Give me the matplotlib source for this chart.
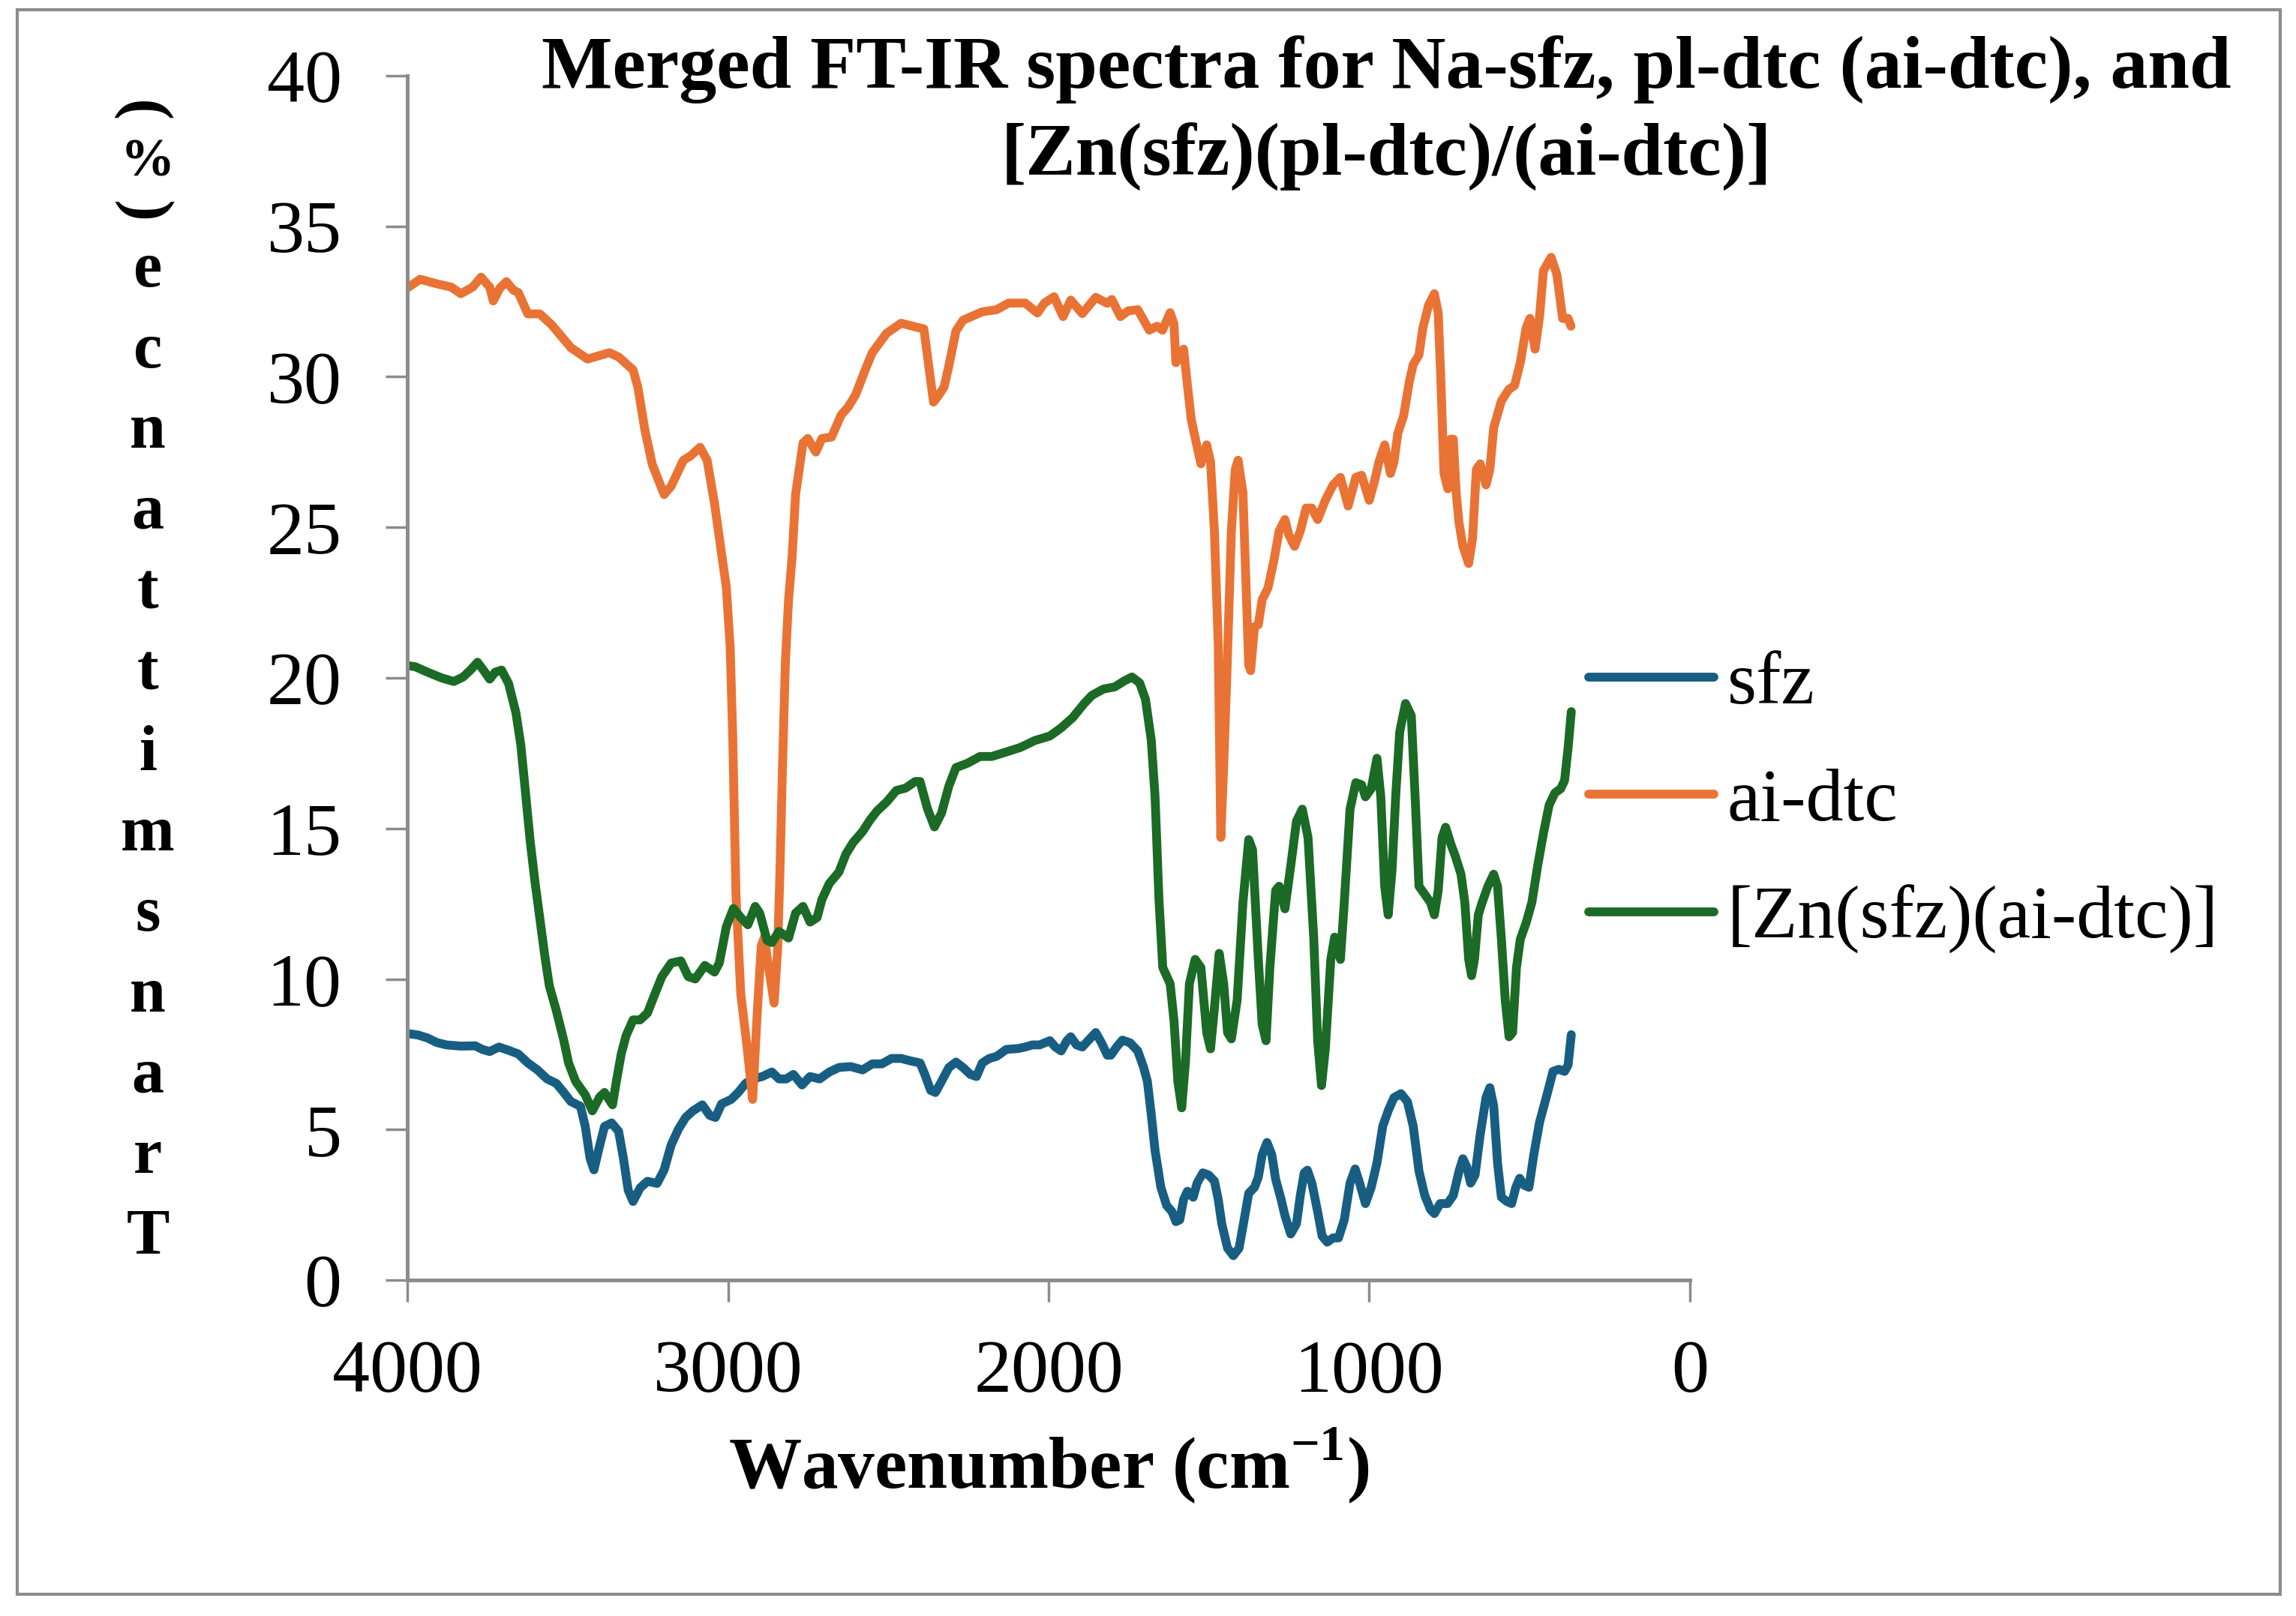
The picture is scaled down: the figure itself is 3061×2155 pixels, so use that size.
"""Merged FT-IR spectra: sfz, ai-dtc and the Zn complex."""

import matplotlib
matplotlib.use("Agg")
import matplotlib.pyplot as plt
from matplotlib.patches import Rectangle

# --- data (wavenumber in cm-1, transmittance in %) ---
sfz_wn = [4000, 3967, 3937, 3908, 3878, 3833, 3788, 3766, 3743, 3714, 3684, 3654,
          3624, 3594, 3564, 3535, 3512, 3490, 3460, 3445, 3430, 3418, 3403, 3385,
          3363, 3341, 3326, 3311, 3296, 3274, 3251, 3221, 3199, 3177, 3154, 3132,
          3109, 3080, 3057, 3039, 3020, 2990, 2968, 2945, 2923, 2893, 2863, 2841,
          2818, 2796, 2769, 2744, 2714, 2684, 2654, 2617, 2580, 2550, 2520, 2490,
          2460, 2431, 2401, 2386, 2368, 2353, 2334, 2311, 2289, 2267, 2244, 2225,
          2207, 2185, 2162, 2132, 2095, 2073, 2050, 2028, 1996, 1979, 1961, 1943,
          1931, 1913, 1895, 1877, 1853, 1835, 1817, 1806, 1788, 1770, 1746, 1722,
          1704, 1692, 1680, 1668, 1650, 1632, 1615, 1603, 1591, 1579, 1567, 1549,
          1537, 1519, 1501, 1483, 1471, 1460, 1442, 1424, 1406, 1388, 1376, 1358,
          1346, 1334, 1319, 1304, 1292, 1275, 1263, 1245, 1227, 1215, 1203, 1193,
          1179, 1161, 1147, 1131, 1113, 1096, 1078, 1060, 1044, 1030, 1012, 994,
          976, 958, 940, 923, 901, 881, 863, 845, 827, 809, 797, 779, 756, 738,
          720, 708, 696, 684, 670, 654, 636, 624, 612, 600, 588, 571, 556, 543,
          531, 517, 502, 487, 469, 445, 427, 409, 391, 380, 370]
sfz_t = [8.19, 8.14, 8.04, 7.89, 7.81, 7.77, 7.78, 7.66, 7.59, 7.74, 7.63, 7.51,
         7.21, 6.98, 6.68, 6.53, 6.23, 5.93, 5.77, 5.10, 4.04, 3.66, 4.34, 5.10,
         5.22, 4.94, 4.04, 2.98, 2.61, 3.06, 3.28, 3.21, 3.66, 4.49, 5.02, 5.40,
         5.62, 5.82, 5.47, 5.40, 5.85, 6.00, 6.23, 6.53, 6.68, 6.76, 6.91, 6.68,
         6.68, 6.83, 6.48, 6.76, 6.68, 6.91, 7.06, 7.09, 6.98, 7.18, 7.18, 7.36,
         7.36, 7.28, 7.21, 6.83, 6.30, 6.23, 6.60, 7.06, 7.24, 7.06, 6.83, 6.76,
         7.21, 7.36, 7.43, 7.66, 7.69, 7.74, 7.81, 7.81, 7.95, 7.74, 7.61, 7.95,
         8.08, 7.81, 7.74, 7.95, 8.22, 7.88, 7.47, 7.47, 7.74, 7.97, 7.88, 7.61,
         7.07, 6.60, 5.51, 4.30, 3.08, 2.48, 2.27, 1.94, 2.00, 2.68, 2.95, 2.75,
         3.22, 3.56, 3.49, 3.29, 2.68, 1.87, 1.06, 0.81, 1.06, 2.14, 2.88, 3.08,
         3.42, 4.16, 4.57, 4.16, 3.35, 2.68, 2.14, 1.53, 1.87, 2.81, 3.56, 3.65,
         3.22, 2.27, 1.46, 1.26, 1.40, 1.40, 2.00, 3.22, 3.69, 3.22, 2.54, 3.08,
         3.89, 5.11, 5.65, 6.06, 6.19, 5.92, 5.11, 3.62, 2.81, 2.34, 2.21, 2.54, 2.54, 2.81,
         3.62, 4.03, 3.76, 3.22, 3.49, 4.84, 6.06, 6.39, 5.78, 3.89, 2.75, 2.61, 2.54, 3.08,
         3.38, 3.15, 3.08, 4.16, 5.24, 6.19, 6.93, 7.00, 6.93, 7.14, 8.15]

aidtc_wn = [4000, 3960, 3908, 3863, 3833, 3796, 3770, 3743, 3732, 3711, 3691, 3669,
            3654, 3624, 3587, 3550, 3490, 3438, 3370, 3341, 3296, 3281, 3259, 3236,
            3199, 3177, 3139, 3117, 3087, 3065, 3042, 3027, 3005, 2993, 2985, 2975,
            2960, 2941, 2923, 2908, 2896, 2886, 2875, 2856, 2845, 2838, 2830, 2821,
            2811, 2800, 2789, 2766, 2751, 2726, 2707, 2677, 2647, 2625, 2602, 2572,
            2550, 2505, 2460, 2416, 2389, 2374, 2359, 2344, 2326, 2311, 2289, 2267,
            2237, 2207, 2162, 2125, 2073, 2035, 2013, 1983, 1955, 1931, 1895, 1853,
            1817, 1803, 1776, 1752, 1722, 1686, 1662, 1645, 1621, 1609, 1603, 1579,
            1567, 1555, 1537, 1525, 1507, 1495, 1483, 1471, 1463, 1455, 1445, 1430,
            1418, 1409, 1394, 1386, 1376, 1370, 1358, 1346, 1334, 1316, 1298, 1281,
            1263, 1251, 1233, 1215, 1197, 1179, 1161, 1137, 1113, 1090, 1066, 1042,
            1024, 1000, 982, 970, 952, 934, 923, 911, 893, 875, 863, 845, 833, 815,
            797, 785, 777, 767, 755, 746, 738, 729, 720, 708, 690, 678, 666, 654,
            636, 624, 612, 588, 565, 547, 529, 511, 499, 483, 469, 457, 433, 415,
            397, 380, 371]
aidtc_t = [32.95, 33.24, 33.09, 32.98, 32.76, 32.98, 33.31, 32.98, 32.52, 32.95, 33.16, 32.88,
           32.80, 32.09, 32.09, 31.73, 30.97, 30.59, 30.80, 30.66, 30.23, 29.66, 28.23, 27.09,
           26.09, 26.37, 27.23, 27.37, 27.66, 27.23, 25.80, 24.66, 23.00, 21.00, 18.00, 12.80,
           9.50, 7.80, 6.00, 9.00, 11.10, 11.40, 10.50, 9.20, 11.00, 13.50, 17.00, 20.50,
           22.60, 24.00, 26.10, 27.80, 27.95, 27.50, 27.95, 28.00, 28.73, 29.00, 29.40, 30.23,
           30.80, 31.45, 31.78, 31.66, 31.59, 30.37, 29.16, 29.37, 29.66, 30.37, 31.52, 31.88,
           32.02, 32.16, 32.23, 32.45, 32.45, 32.12, 32.45, 32.66, 32.00, 32.55, 32.10, 32.64,
           32.44, 32.57, 32.00, 32.19, 32.23, 31.55, 31.68, 31.55, 32.13, 31.75, 30.47, 30.92,
           29.71, 28.57, 27.68, 27.11, 27.74, 27.17, 24.88, 21.10, 14.70, 16.80, 19.80, 24.90,
           26.92, 27.23, 26.15, 23.60, 20.43, 20.24, 21.70, 21.77, 22.60, 22.98, 23.87, 24.88,
           25.26, 24.75, 24.37, 24.88, 25.64, 25.64, 25.26, 25.90, 26.41, 26.66, 25.71, 26.66,
           26.73, 25.90, 26.60, 27.17, 27.74, 26.79, 27.17, 28.12, 28.70, 29.84, 30.41, 30.73, 31.62, 32.38,
           32.76, 32.13, 29.97, 26.79, 26.28, 27.93, 27.93, 26.15, 25.14, 24.37, 23.80, 24.63, 26.92, 27.11,
           26.41, 26.92, 28.31, 29.20, 29.58, 29.71, 30.47, 31.62, 31.94, 30.92, 32.00, 33.52, 33.97, 33.40,
           31.94, 31.94, 31.68]

zn_wn = [4000, 3975, 3937, 3893, 3855, 3826, 3803, 3781, 3758, 3743, 3726, 3706,
         3684, 3661, 3646, 3632, 3617, 3602, 3587, 3572, 3557, 3535, 3512, 3497,
         3475, 3445, 3423, 3400, 3385, 3360, 3348, 3333, 3318, 3296, 3274, 3251,
         3229, 3206, 3177, 3147, 3124, 3102, 3072, 3042, 3027, 3005, 2983, 2960,
         2938, 2915, 2901, 2878, 2863, 2841, 2811, 2789, 2766, 2744, 2722, 2707,
         2684, 2654, 2632, 2610, 2580, 2557, 2535, 2505, 2475, 2446, 2416, 2401,
         2378, 2356, 2334, 2311, 2289, 2252, 2214, 2177, 2132, 2088, 2043, 1996,
         1961, 1925, 1889, 1865, 1829, 1794, 1764, 1740, 1716, 1698, 1680, 1668,
         1656, 1644, 1621, 1609, 1597, 1585, 1573, 1561, 1543, 1525, 1507, 1495,
         1483, 1468, 1454, 1442, 1430, 1412, 1394, 1376, 1364, 1346, 1334, 1322,
         1310, 1292, 1281, 1263, 1245, 1227, 1209, 1191, 1173, 1161, 1149, 1137,
         1120, 1108, 1090, 1078, 1060, 1042, 1024, 1012, 994, 976, 964, 952,
         941, 929, 917, 905, 887, 869, 857, 845, 827, 809, 797, 785, 773, 762,
         744, 732, 714, 702, 690, 681, 672, 660, 648, 630, 612, 600, 588, 576,
         564, 553, 541, 529, 511, 493, 475, 457, 439, 421, 403, 391, 380, 370]
zn_t = [20.41, 20.37, 20.19, 20.00, 19.88, 20.03, 20.26, 20.52, 20.19, 19.96, 20.19, 20.26,
        19.81, 18.83, 17.77, 16.26, 14.60, 13.24, 12.04, 10.83, 9.77, 8.94, 7.96, 7.21,
        6.60, 6.15, 5.62, 6.08, 6.23, 5.82, 6.60, 7.50, 8.11, 8.64, 8.64, 8.87,
        9.47, 10.08, 10.53, 10.60, 10.08, 10.00, 10.45, 10.23, 10.53, 11.74, 12.34, 12.04,
        11.80, 12.41, 12.19, 11.28, 11.21, 11.58, 11.36, 12.19, 12.41, 11.89, 12.04, 12.64,
        13.17, 13.55, 14.15, 14.53, 14.90, 15.28, 15.58, 15.88, 16.26, 16.34, 16.56, 16.56,
        15.66, 15.05, 15.51, 16.41, 17.02, 17.17, 17.39, 17.39, 17.54, 17.69, 17.92, 18.07,
        18.34, 18.68, 19.15, 19.42, 19.63, 19.70, 19.90, 20.03, 19.83, 19.29, 17.94, 16.05,
        12.67, 10.38, 9.84, 8.62, 6.60, 5.72, 7.27, 9.84, 10.65, 10.38, 8.22, 7.68,
        9.03, 10.85, 9.84, 8.22, 8.01, 9.30, 12.54, 14.63, 14.29, 10.65, 8.49, 7.95,
        10.38, 12.94, 13.08, 12.33, 13.75, 15.24, 15.64, 14.70, 11.32, 7.95, 6.46, 7.68,
        10.65, 11.39, 10.65, 12.54, 15.64, 16.52, 16.45, 16.05, 16.32, 17.33, 16.05, 13.08,
        12.13, 13.62, 16.18, 18.21, 19.15, 18.75, 16.05, 13.08, 12.81, 12.54, 12.13, 12.94, 14.70, 15.04,
        14.43, 14.09, 13.48, 12.54, 10.65, 10.11, 10.65, 12.13, 12.54, 13.08, 13.48, 13.08, 11.32, 9.30,
        8.08, 8.22, 10.38, 11.32, 11.86, 12.54, 13.75, 14.83, 15.78, 16.18, 16.32, 16.59, 17.67, 18.88]

series = [("sfz", sfz_wn, sfz_t, "#175E82"),
          ("ai-dtc", aidtc_wn, aidtc_t, "#E97335"),
          ("[Zn(sfz)(ai-dtc)]", zn_wn, zn_t, "#1B6A26")]

x_ticks = [4000, 3000, 2000, 1000, 0]
y_ticks = [0, 5, 10, 15, 20, 25, 30, 35, 40]
ylabel_word = "Transmittance"
title_lines = ["Merged FT-IR spectra for Na-sfz, pl-dtc (ai-dtc), and",
               "[Zn(sfz)(pl-dtc)/(ai-dtc)]"]

W, H = 3061, 2155
GREY = "#8C8C8C"
SERIF = "Liberation Serif"

plt.rcParams["font.family"] = SERIF
plt.rcParams["mathtext.fontset"] = "custom"
plt.rcParams["mathtext.rm"] = SERIF
plt.rcParams["mathtext.bf"] = SERIF + ":bold"


def fx(px):
    return px / W


def fy(py):
    return 1 - py / H


fig = plt.figure(figsize=(W / 100, H / 100), dpi=100)
ax = fig.add_axes([fx(543), fy(1707), fx(2253) - fx(543), fy(101) - fy(1707)])

for label, wn, t, color in series:
    ax.plot(wn, t, color=color, lw=8.5, label=label,
            solid_capstyle="round", solid_joinstyle="round")

ax.set_xlim(4000, 0)
ax.set_ylim(0, 40)
ax.set_xticks(x_ticks)
ax.set_yticks(y_ticks)
for side in ["top", "right"]:
    ax.spines[side].set_visible(False)
for side in ["left", "bottom"]:
    ax.spines[side].set_color(GREY)
    ax.spines[side].set_linewidth(3.6)
ax.tick_params(axis="both", direction="out", color=GREY, width=2.5,
               length=21, labelsize=72)
ax.tick_params(axis="x", pad=36)
ax.tick_params(axis="y", pad=42)

# stacked y label, read bottom to top
step = 107.4
for k, ch in enumerate(ylabel_word):
    fig.text(fx(197), fy(1671 - k * step), ch, ha="center", va="baseline",
             fontsize=62, fontweight="bold")
fig.text(fx(190), fy(277), "(", rotation=90, ha="center", va="center",
         fontsize=62, fontweight="bold")
fig.text(fx(197), fy(217), "%", ha="center", va="center",
         fontsize=52, fontweight="bold")
fig.text(fx(190), fy(143), ")", rotation=90, ha="center", va="center",
         fontsize=62, fontweight="bold")

fig.text(fx(1398), fy(1985), r"Wavenumber (cm$^{\mathbf{-1}}$)", ha="center",
         va="baseline", fontsize=70, fontweight="bold")

fig.text(fx(1848), fy(118), title_lines[0], ha="center", va="baseline",
         fontsize=72, fontweight="bold")
fig.text(fx(1848), fy(234), title_lines[1], ha="center", va="baseline",
         fontsize=72, fontweight="bold")

ax.legend(loc="center left", bbox_to_anchor=(fx(2118), fy(1070)),
          bbox_transform=fig.transFigure, frameon=False, fontsize=72,
          handlelength=1.67, handletextpad=0.18, labelspacing=0.65,
          borderpad=0, borderaxespad=0)

fig.add_artist(Rectangle((fx(23), fy(2126)), fx(3040) - fx(23), fy(13) - fy(2126),
                         transform=fig.transFigure, fill=False,
                         edgecolor=GREY, lw=3))

fig.savefig("out.png", dpi=100)
